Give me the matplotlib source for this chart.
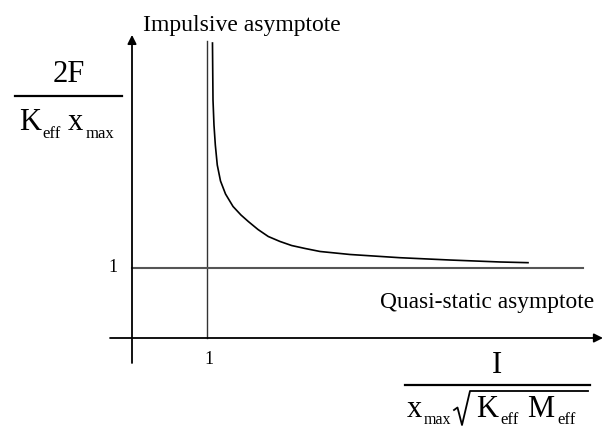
import numpy as np
import matplotlib
matplotlib.use("Agg")
import matplotlib.pyplot as plt
from matplotlib.lines import Line2D

# curve (normalised impulse, normalised load)
curve_x = [1.073, 1.076, 1.08, 1.093, 1.111, 1.137, 1.18, 1.247, 1.347,
           1.453, 1.551, 1.68, 1.817, 1.973, 2.129, 2.307, 2.507, 2.907,
           3.573, 4.24, 4.907, 5.28]
curve_y = [4.214, 3.857, 3.4, 3.043, 2.757, 2.471, 2.243, 2.057, 1.879,
           1.757, 1.664, 1.55, 1.45, 1.379, 1.321, 1.279, 1.236, 1.193,
           1.147, 1.114, 1.086, 1.076]

impulsive_x = 1.0
quasi_static_y = 1.0
tick_x_labels = ["1"]
tick_y_labels = ["1"]

W, H = 604, 434
serif = "Liberation Serif"

fig = plt.figure(figsize=(W / 100, H / 100), dpi=100)
ax = fig.add_axes([0, 0, 1, 1])
ax.set_xlim(-132 / 75, (W - 132) / 75)
ax.set_ylim((338 - H) / 70, 338 / 70)
ax.axis("off")


def fx(x):
    return x / W


def fy(y):
    return 1 - y / H


def label(x, y, s, size, ha="left"):
    fig.text(fx(x), fy(y), s, fontsize=size, ha=ha, va="baseline",
             family=serif)


def seg(pts, lw=1.3, color="black"):
    xs = [fx(p[0]) for p in pts]
    ys = [fy(p[1]) for p in pts]
    fig.add_artist(Line2D(xs, ys, lw=lw, color=color,
                          transform=fig.transFigure))


# axes with arrows
arrow = dict(arrowstyle="-|>", mutation_scale=13, lw=1.3, color="black",
             shrinkA=0, shrinkB=0)
ax.annotate("", xy=(0, 4.33), xytext=(0, -0.357), arrowprops=arrow)
ax.annotate("", xy=(6.28, 0), xytext=(-0.293, 0), arrowprops=arrow)

# asymptotes
ax.plot([impulsive_x, impulsive_x], [0, 4.247], color="#333333", lw=1.0)
ax.plot([0, 6.013], [quasi_static_y, quasi_static_y], color="#555555", lw=1.5)

# pressure-impulse curve
ax.plot(curve_x, curve_y, color="black", lw=1.2)

# tick labels
ax.text(1.03, -0.371, tick_x_labels[0], fontsize=13, ha="center",
        va="baseline", family=serif)
ax.text(-0.26, 1.0, tick_y_labels[0], fontsize=13, ha="center",
        va="center", family=serif)

# asymptote labels
label(143, 31, "Impulsive asymptote", 17)
label(380, 308, "Quasi-static asymptote", 16.8)

# y-axis quantity: 2F / (K_eff x_max)
label(69, 82, "2F", 22, ha="center")
seg([(15, 96), (122, 96)], lw=1.6)
label(19, 130, "K", 22)
label(42, 137.5, "eff", 12)
label(68, 130, "x", 22)
label(86, 138, "max", 12)

# x-axis quantity: I / (x_max sqrt(K_eff M_eff))
label(497, 373, "I", 22, ha="center")
seg([(405, 384.5), (590, 384.5)], lw=1.6)
label(407, 417, "x", 22)
label(424, 424, "max", 11.5)
seg([(454, 410), (457.5, 407.5), (462, 425), (470, 391), (588, 391)], lw=1.3)
label(476, 417, "K", 22)
label(500, 424, "eff", 12)
label(527, 417, "M", 22)
label(557, 424, "eff", 12)

fig.savefig("out.png", dpi=100)
